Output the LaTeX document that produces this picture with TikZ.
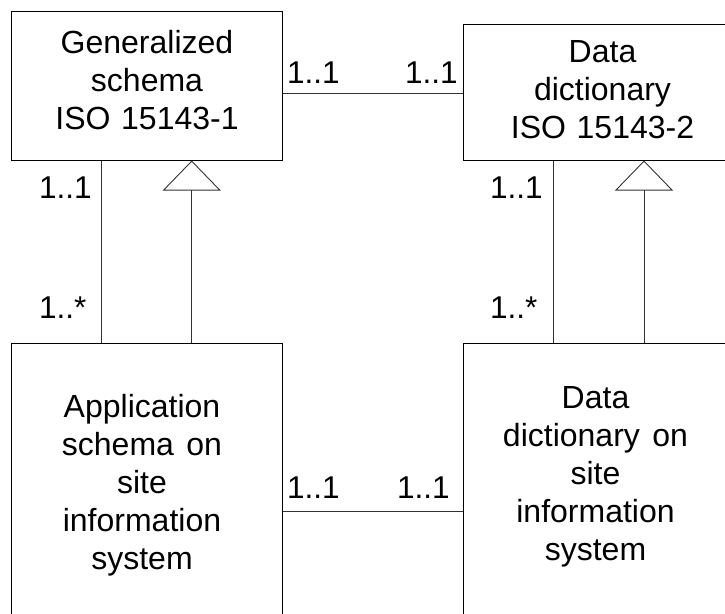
\documentclass[tikz,border=0pt]{standalone}
\usepackage{fontspec}
\setmainfont{Liberation Sans}
\usetikzlibrary{arrows.meta}
\begin{document}
\begin{tikzpicture}[x=1pt,y=-1pt,
  box/.style={draw=black,line width=1pt,inner sep=0pt,fill=none},
  txt/.style={font=\fontsize{32}{38}\selectfont,text width=270pt,align=center,anchor=base,inner sep=0pt},
  mult/.style={font=\fontsize{31.5}{38}\selectfont,inner sep=0pt,anchor=base west},
  assoc/.style={draw=black!80,line width=0.9pt},
  gen/.style={draw=black!80,line width=0.9pt,-{Triangle[open,length=30pt,width=58pt,line width=0.9pt,fill=white]}}]
\clip (0,0) rectangle (725,613);
% boxes
\node[box,minimum width=271pt,minimum height=149pt] (gs) at (146.5,85.5) {};
\node[box,minimum width=279pt,minimum height=136pt] (dd) at (602.5,92) {};
\node[box,minimum width=271pt,minimum height=282pt] (as) at (146.5,484) {};
\node[box,minimum width=279pt,minimum height=282pt] (ds) at (602.5,484) {};
% texts
\node[txt] (tgs) at (147,53) {Generalized\\schema\\ISO 15143-1};
\node[txt] (tdd) at (602.5,62) {Data\\dictionary\\ISO 15143-2};
\node[txt] (tas) at (142,417) {Application\\schema\hspace{0.39em}on\\site\\information\\system};
\node[txt] (tds) at (595.5,408) {Data\\dictionary\hspace{0.39em}on\\site\\information\\system};
% helper coordinates
\coordinate (xa) at (101.7,0);
\coordinate (xg) at (191.7,0);
\coordinate (xb) at (553.5,0);
\coordinate (xh) at (644,0);
\coordinate (ytop) at (0,93);
\coordinate (ybot) at (0,511);
% associations
\draw[assoc] (gs.east |- ytop) -- (dd.west |- ytop);
\draw[assoc] (as.east |- ybot) -- (ds.west |- ybot);
\draw[assoc] (gs.south -| xa) -- (as.north -| xa);
\draw[assoc] (dd.south -| xb) -- (ds.north -| xb);
% generalizations
\draw[gen] (as.north -| xg) -- (gs.south -| xg);
\draw[gen] (ds.north -| xh) -- (dd.south -| xh);
% multiplicities
\node[mult] (m1) at (287,83) {1..1};
\node[mult] (m2) at (405,83) {1..1};
\node[mult] (m3) at (39,198) {1..1};
\node[mult] (m4) at (39,318) {1..*};
\node[mult] (m5) at (490,198) {1..1};
\node[mult] (m6) at (490,318) {1..*};
\node[mult] (m7) at (287,498) {1..1};
\node[mult] (m8) at (397,498) {1..1};
\end{tikzpicture}
\end{document}
